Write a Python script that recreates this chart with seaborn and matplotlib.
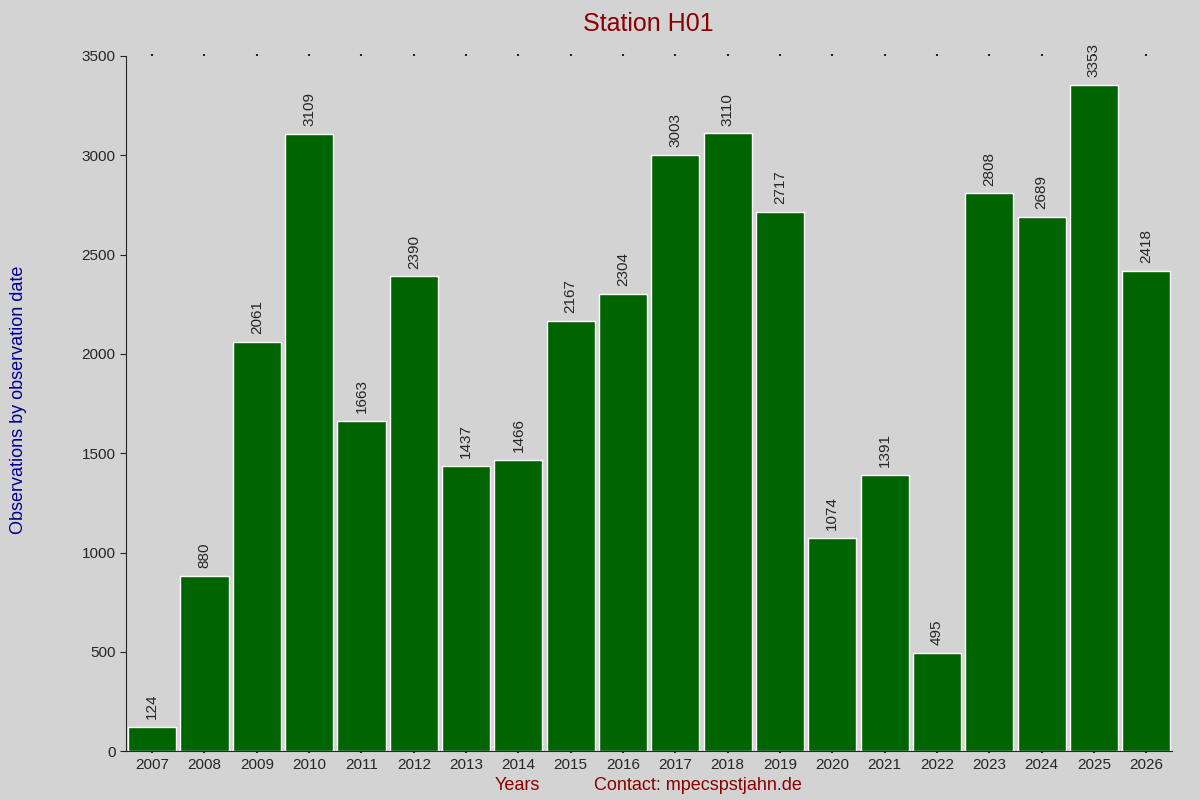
import matplotlib
matplotlib.use("Agg")
import matplotlib.pyplot as plt
import seaborn as sns
import pandas as pd

years = [str(y) for y in range(2007, 2027)]
counts = [124, 880, 2061, 3109, 1663, 2390, 1437, 1466, 2167, 2304,
          3003, 3110, 2717, 1074, 1391, 495, 2808, 2689, 3353, 2418]

df = pd.DataFrame({"Year": years, "Count": counts})

sns.set_style("ticks")
plt.rcParams['font.family'] = ['Liberation Sans', 'DejaVu Sans']

fig = plt.figure(figsize=(12, 8), dpi=100, facecolor='#d3d3d3')
ax = fig.add_axes([0.105, 0.061, 0.872, 0.869])
ax.set_facecolor('#d3d3d3')

sns.barplot(data=df, x="Year", y="Count", color='#006400', saturation=1,
            width=0.92, ax=ax)

for i, v in enumerate(counts):
    ax.text(i, v + 40, str(v), rotation=90, ha='center', va='bottom', fontsize=11)

ax.set_ylim(0, 3500)
ax.set_xlim(-0.5, len(years) - 0.5)
ax.set_yticks(range(0, 3501, 500))
ax.tick_params(axis='both', labelsize=11, length=4)
ax.tick_params(axis='x', top=True, length=1.5, width=1.5)
for s in ['top', 'right']:
    ax.spines[s].set_visible(False)
ax.set_xlabel("")
ax.set_ylabel("")

fig.text(0.54, 0.985, "Station H01", ha='center', va='top', fontsize=18, color='#8b0000')
fig.text(0.431, 0.007, "Years", ha='center', va='bottom', fontsize=13, color='#8b0000')
fig.text(0.582, 0.007, "Contact: mpecspstjahn.de", ha='center', va='bottom', fontsize=13, color='#8b0000')
fig.text(0.008, 0.5, "Observations by observation date", rotation=90, ha='left', va='center',
         fontsize=13, color='#00008b')

fig.savefig("out.png", dpi=100, facecolor='#d3d3d3')
